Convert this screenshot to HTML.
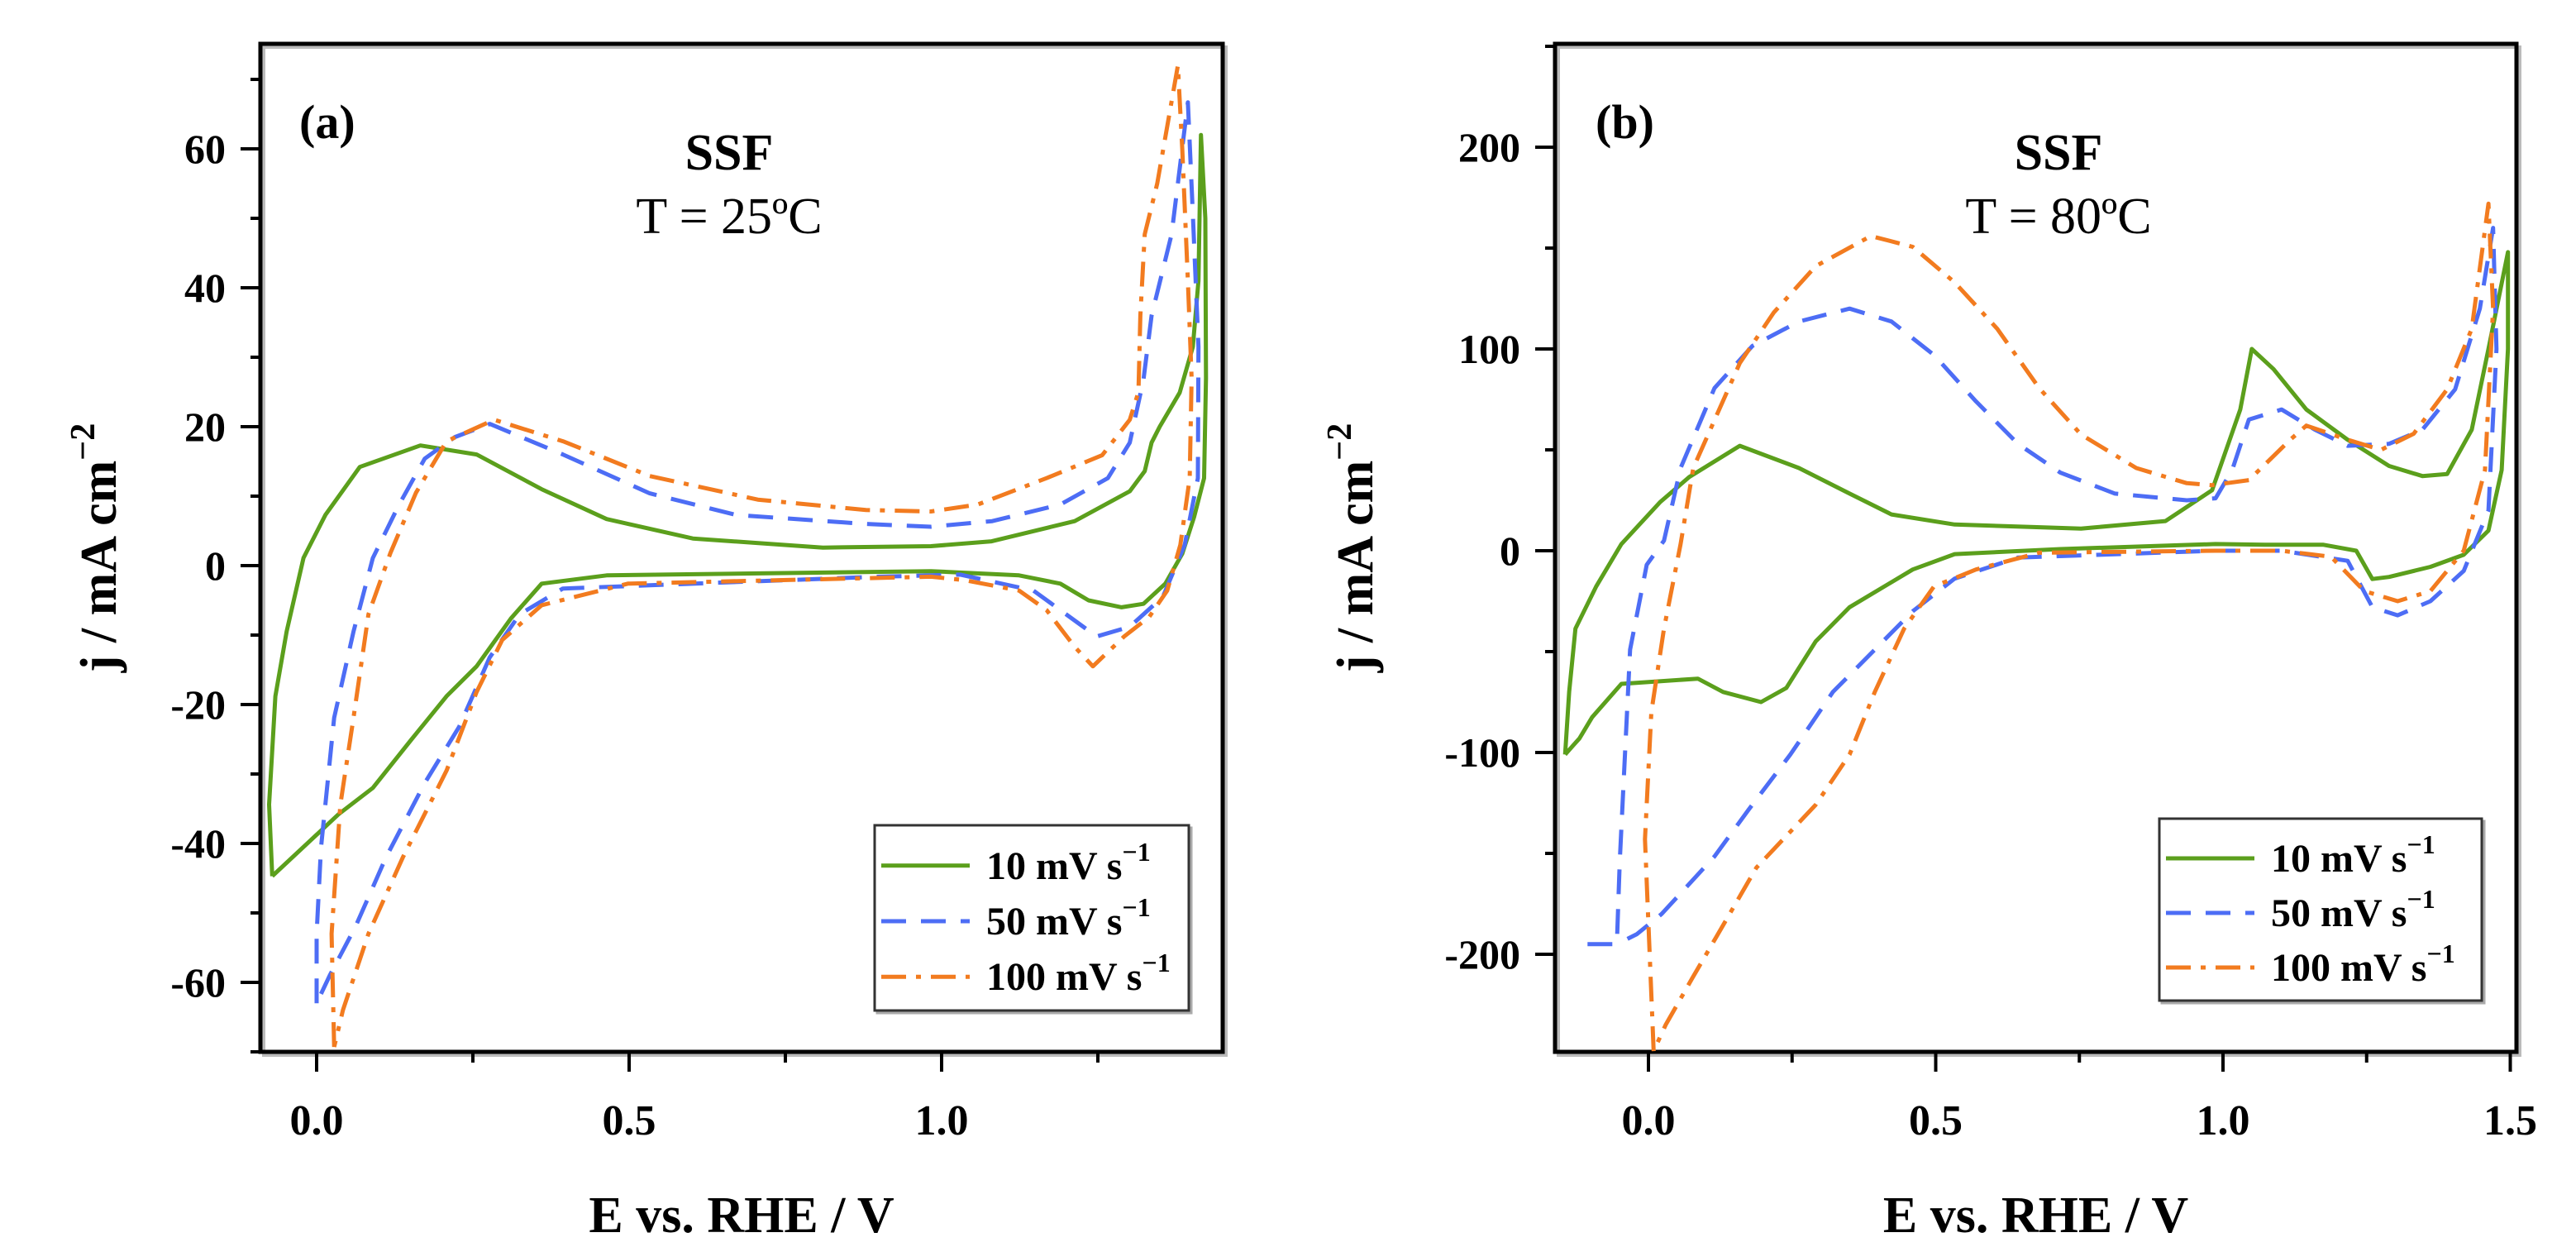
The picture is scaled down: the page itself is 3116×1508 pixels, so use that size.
<!DOCTYPE html>
<html><head><meta charset="utf-8">
<style>
html,body{margin:0;padding:0;background:#fff;}
svg{display:block;}
text{font-family:"Liberation Serif",serif;fill:#000;}
</style></head>
<body>
<svg id="fig" width="3116" height="1508" viewBox="0 0 3116 1508" xmlns="http://www.w3.org/2000/svg">
<g id="pa"></g>
<g id="pb"></g>
</svg>
<script>
// ---------- Panel (a) data, T = 25 C ----------
const aXTicks = [0.0, 0.5, 1.0];
const aYTicks = [-60, -40, -20, 0, 20, 40, 60];
const a10 = [[-0.071,-44.7],[-0.076,-34.4],[-0.066,-18.8],[-0.048,-9.5],[-0.021,1.1],[0.014,7.3],[0.069,14.2],[0.166,17.3],[0.256,16],[0.360,11],[0.464,6.7],[0.602,3.9],[0.810,2.6],[0.983,2.8],[1.08,3.5],[1.213,6.4],[1.301,10.7],[1.325,13.6],[1.336,17.7],[1.349,20],[1.381,24.9],[1.402,31.5],[1.411,41],[1.415,62],[1.422,50],[1.423,27],[1.42,12.6],[1.404,7],[1.385,1.7],[1.358,-2.6],[1.323,-5.5],[1.288,-6],[1.235,-5],[1.19,-2.6],[1.124,-1.4],[0.983,-0.8],[0.464,-1.4],[0.360,-2.6],[0.311,-7.6],[0.256,-14.5],[0.208,-18.8],[0.152,-25],[0.090,-32],[0.035,-35.8],[-0.071,-44.7]];
const a50 = [[0.0,-63],[0.0,-53],[0.007,-40.6],[0.028,-21.9],[0.059,-9.5],[0.090,1.1],[0.132,8.8],[0.173,15.4],[0.221,18.5],[0.277,20.4],[0.394,16],[0.533,10.4],[0.671,7.3],[0.879,6],[0.983,5.6],[1.081,6.4],[1.19,8.8],[1.266,12.6],[1.301,17.7],[1.323,26.8],[1.336,36],[1.368,47.7],[1.394,66.7],[1.402,50.6],[1.411,31.5],[1.41,12.6],[1.389,3],[1.354,-4.5],[1.301,-8.8],[1.248,-10.2],[1.19,-6.4],[1.147,-3.6],[1.03,-1.3],[0.900,-1.6],[0.394,-3.3],[0.325,-7],[0.277,-13.2],[0.228,-23.2],[0.173,-31.3],[0.111,-42],[0.062,-52],[0.021,-59],[0.0,-63]];
const a100 = [[0.028,-69.3],[0.024,-53],[0.038,-34.4],[0.059,-21.9],[0.083,-7],[0.118,1.8],[0.159,10.5],[0.208,17.9],[0.284,21],[0.394,17.9],[0.533,12.9],[0.706,9.5],[0.879,8],[0.983,7.8],[1.058,8.8],[1.168,12.6],[1.257,15.9],[1.301,21],[1.315,25],[1.318,36],[1.325,47.7],[1.345,55],[1.378,72],[1.385,60],[1.394,41],[1.40,27],[1.397,12.6],[1.382,3],[1.361,-3.6],[1.332,-7.4],[1.292,-10.2],[1.242,-14.5],[1.213,-11.7],[1.168,-6.4],[1.124,-3.6],[1.037,-2.1],[0.983,-1.6],[0.498,-2.6],[0.360,-5.7],[0.297,-10.7],[0.256,-18.2],[0.208,-29.5],[0.138,-42],[0.083,-53],[0.042,-64],[0.028,-69.3]];

// ---------- Panel (b) data, T = 80 C ----------
const bXTicks = [0.0, 0.5, 1.0, 1.5];
const bYTicks = [-200, -100, 0, 100, 200];
const b10 = [[-0.145,-101],[-0.138,-70],[-0.127,-38.6],[-0.091,-17.7],[-0.047,3.3],[0.02,24],[0.071,36.5],[0.159,52],[0.262,41],[0.350,28.3],[0.423,18],[0.533,13],[0.753,11],[0.900,14.7],[0.981,30],[1.030,70],[1.050,100],[1.088,90],[1.145,70],[1.217,55],[1.289,42],[1.347,37],[1.390,38],[1.433,60],[1.462,100],[1.496,148],[1.496,100],[1.485,40],[1.462,10],[1.419,-2],[1.361,-8],[1.289,-13],[1.260,-14],[1.232,0],[1.174,3],[1.073,3],[0.987,3.3],[0.717,0.8],[0.533,-1.7],[0.460,-9.3],[0.350,-28],[0.291,-45],[0.240,-68],[0.196,-75],[0.130,-70],[0.086,-63.4],[-0.047,-66],[-0.098,-82.5],[-0.12,-93],[-0.145,-101]];
const b50 = [[-0.106,-195],[-0.055,-195],[-0.05,-154],[-0.032,-49],[-0.003,-7],[0.027,5],[0.056,41],[0.115,80.6],[0.181,101.5],[0.262,113.6],[0.350,120],[0.423,113.6],[0.497,97],[0.570,74],[0.643,53],[0.717,38.7],[0.812,28.3],[0.937,25],[0.987,26],[1.016,40],[1.045,65],[1.102,70],[1.160,60],[1.217,52],[1.289,53],[1.347,60],[1.404,80],[1.447,120],[1.470,160],[1.476,100],[1.462,20],[1.419,-10],[1.361,-25],[1.304,-32],[1.260,-28],[1.217,-5],[1.102,0],[0.987,0],[0.643,-3.4],[0.533,-13.8],[0.460,-30],[0.394,-49],[0.321,-70],[0.247,-101],[0.174,-128.5],[0.115,-151.5],[0.023,-180],[-0.020,-190],[-0.055,-195]];
const b100 = [[0.009,-248],[-0.006,-143],[0.005,-80],[0.027,-38.6],[0.056,3.3],[0.078,41],[0.159,93],[0.218,118],[0.291,141],[0.387,156],[0.460,150.6],[0.533,133],[0.607,110],[0.680,80.6],[0.753,57.6],[0.849,41],[0.937,33.5],[0.981,32.5],[1.045,35],[1.117,55],[1.145,62],[1.217,55],[1.275,50],[1.332,58],[1.390,80],[1.433,110],[1.462,172],[1.470,120],[1.456,40],[1.419,0],[1.361,-20],[1.304,-25],[1.246,-20],[1.188,-3],[1.102,0],[0.987,0],[0.680,-1],[0.570,-9.3],[0.497,-17.7],[0.445,-38.6],[0.394,-70],[0.350,-101],[0.291,-126],[0.188,-157],[0.119,-191],[0.076,-212],[0.03,-235],[0.009,-248]];

const NS = "http://www.w3.org/2000/svg";
function mk(tag, attrs, parent){ const e=document.createElementNS(NS,tag); for(const k in attrs) e.setAttribute(k,attrs[k]); parent.appendChild(e); return e; }

const GREEN="#5b9f1c", BLUE="#4d6df5", ORANGE="#f27b1f";
const styles = {
  s10:{stroke:GREEN,dash:""},
  s50:{stroke:BLUE,dash:"30 18"},
  s100:{stroke:ORANGE,dash:"30 12 6 12"}
};

function drawPanel(g, cfg){
  const {L,R,T,B,xmin,xmax,ymin,ymax} = cfg;
  const X = v => L + (v - xmin)/(xmax - xmin)*(R - L);
  const Y = v => B - (v - ymin)/(ymax - ymin)*(B - T);
  const cp = mk("clipPath",{id:"clip"+cfg.id},g);
  mk("rect",{x:L,y:T,width:R-L,height:B-T},cp);
  const shadow = mk("rect",{x:L+4,y:T+4,width:R-L,height:B-T,fill:"none",stroke:"#bbb","stroke-width":4},g);
  
  
  const frame = mk("rect",{x:L,y:T,width:R-L,height:B-T,fill:"none",stroke:"#000","stroke-width":5},g);
  
  
  const xt = mk("g",{},g);
  
  
  for(let i=0;i<cfg.xTicks.length;i++){
    const v=cfg.xTicks[i];
    mk("line",{x1:X(v),x2:X(v),y1:B,y2:B+24,stroke:"#000","stroke-width":4},xt);
    const t=mk("text",{x:X(v),y:B+100,"font-size":52,"font-weight":"bold","text-anchor":"middle"},xt);
    t.textContent=v.toFixed(1);
    
    
    const m=v+0.25;
    if(m<=xmax) mk("line",{x1:X(m),x2:X(m),y1:B,y2:B+13,stroke:"#000","stroke-width":4},xt);
  }
  const yt = mk("g",{},g);
  
  
  for(let i=0;i<cfg.yTicks.length;i++){
    const v=cfg.yTicks[i];
    mk("line",{x1:L-24,x2:L,y1:Y(v),y2:Y(v),stroke:"#000","stroke-width":4},yt);
    const t=mk("text",{x:L-42,y:Y(v)+17,"font-size":50,"font-weight":"bold","text-anchor":"end"},yt);
    t.textContent=String(v);
    
    
  }
  const st=cfg.yMinor;
  for(let v=Math.ceil(ymin/st)*st; v<=ymax; v+=st){
    if(cfg.yTicks.indexOf(v)<0) mk("line",{x1:L-12,x2:L,y1:Y(v),y2:Y(v),stroke:"#000","stroke-width":4},yt);
  }
  const series=[[cfg.d10,"s10","curve-10mv"],[cfg.d50,"s50","curve-50mv"],[cfg.d100,"s100","curve-100mv"]];
  for(const [d,sk,nm] of series){
    const p=d.map((q,i)=>(i?"L":"M")+X(q[0]).toFixed(1)+" "+Y(q[1]).toFixed(1)).join(" ");
    const path=mk("path",{d:p,fill:"none",stroke:styles[sk].stroke,"stroke-width":5,"stroke-dasharray":styles[sk].dash,"stroke-linejoin":"round","clip-path":"url(#clip"+cfg.id+")"},g);
    
    
  }
  const lab=mk("text",{x:cfg.labX,y:167,"font-size":58,"font-weight":"bold"},g);
  lab.textContent=cfg.lab;
  
  
  const ssf=mk("text",{x:cfg.tx,y:205,"font-size":62,"font-weight":"bold","text-anchor":"middle"},g);
  ssf.textContent="SSF";
  
  
  const tt=mk("text",{x:cfg.tx,y:282,"font-size":62,"text-anchor":"middle"},g);
  tt.textContent=cfg.temp;
  
  
  const xtl=mk("text",{x:(L+R)/2,y:1490,"font-size":62,"font-weight":"bold","text-anchor":"middle"},g);
  xtl.textContent="E vs. RHE / V";
  
  
  const ytl=mk("text",{x:0,y:0,"font-size":62,"font-weight":"bold","text-anchor":"middle",transform:"translate("+cfg.ytx+","+((T+B)/2)+") rotate(-90)"},g);
  ytl.innerHTML='j / mA cm<tspan font-size="42" dy="-26">−2</tspan>';
  
  
  const lg=mk("g",{},g);
  
  
  const lx=cfg.lgL, ly=cfg.lgT, lw=cfg.lgR-cfg.lgL, lh=cfg.lgB-cfg.lgT;
  mk("rect",{x:lx+3,y:ly+3,width:lw,height:lh,fill:"none",stroke:"#aaa","stroke-width":3},lg);
  mk("rect",{x:lx,y:ly,width:lw,height:lh,fill:"#fff",stroke:"#333","stroke-width":3},lg);
  const names=["10 mV s","50 mV s","100 mV s"], keys=["s10","s50","s100"];
  for(let i=0;i<3;i++){
    const yy=ly+lh*(0.2+0.3*i)+4;
    const ln=mk("line",{x1:lx+8,x2:lx+115,y1:yy,y2:yy,stroke:styles[keys[i]].stroke,"stroke-width":5,"stroke-dasharray":styles[keys[i]].dash},lg);
    
    
    const t=mk("text",{x:lx+135,y:yy+16,"font-size":48,"font-weight":"bold"},lg);
    t.innerHTML=names[i]+'<tspan font-size="32" dy="-22">−1</tspan>';
    
    
  }
}

drawPanel(document.getElementById("pa"),{
  id:"a",L:315,R:1479,T:53,B:1272,
  xmin:(315-383)/756, xmax:(1479-383)/756, ymin:-70, ymax:(684-53)/8.4,
  xTicks:aXTicks,yTicks:aYTicks,yMinor:10,d10:a10,d50:a50,d100:a100,
  lab:"(a)",labX:362,tx:882,temp:"T = 25ºC",ytx:140,
  lgL:1058,lgR:1438,lgT:998,lgB:1222
});
drawPanel(document.getElementById("pb"),{
  id:"b",L:1881,R:3044,T:53,B:1272,
  xmin:(1881-1994)/695, xmax:(3044-1994)/695, ymin:-(1272-666)/2.44, ymax:(666-53)/2.44,
  xTicks:bXTicks,yTicks:bYTicks,yMinor:50,d10:b10,d50:b50,d100:b100,
  lab:"(b)",labX:1930,tx:2490,temp:"T = 80ºC",ytx:1660,
  lgL:2612,lgR:3002,lgT:990,lgB:1210
});
</script>
</body></html>
